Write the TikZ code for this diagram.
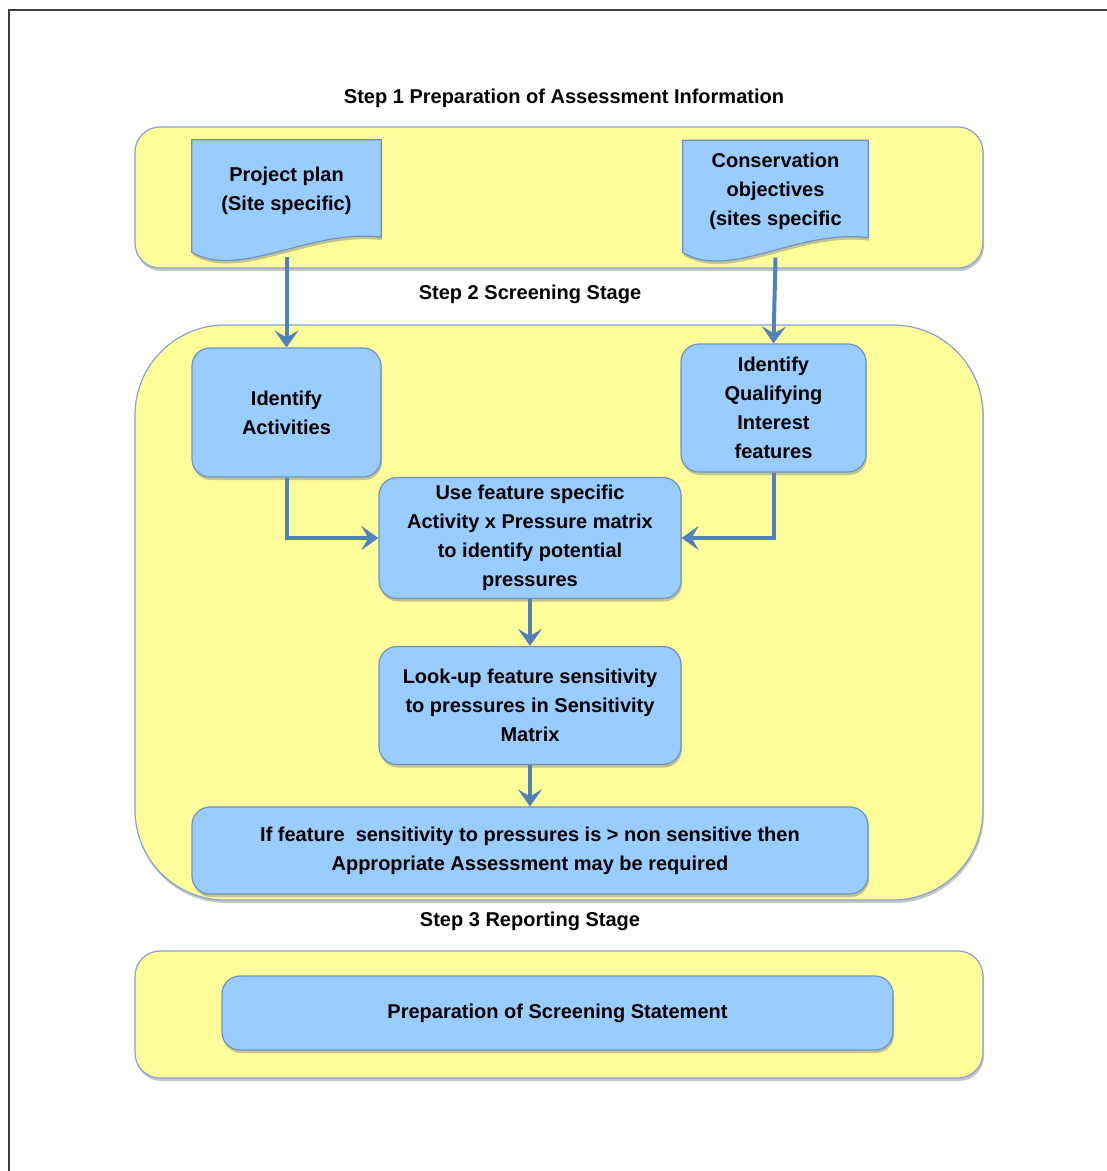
\documentclass[tikz,border=0pt]{standalone}
\usepackage{fontspec}
\setmainfont{Liberation Sans}
\usetikzlibrary{arrows.meta, positioning, calc, shadows, backgrounds}
\definecolor{stagefill}{HTML}{FFFD99}
\definecolor{stageline}{HTML}{86A2D2}
\definecolor{taskfill}{HTML}{99CCFF}
\definecolor{taskline}{HTML}{6F92C6}
\definecolor{flowblue}{HTML}{4F81BD}
\definecolor{framegray}{HTML}{404040}

\begin{document}
\begin{tikzpicture}[x=1pt, y=-1pt,
    stage/.style={rectangle, rounded corners=#1, draw=stageline, line width=1.2pt, fill=stagefill,
                  drop shadow={shadow xshift=1pt, shadow yshift=-3pt, opacity=0.45}},
    task/.style={rectangle, rounded corners=18pt, draw=taskline, line width=1.2pt, fill=taskfill,
                 align=center, font=\bfseries, drop shadow={shadow xshift=1pt, shadow yshift=-3pt, opacity=0.45}},
    doctext/.style={rectangle, align=center, font=\bfseries, minimum height=101pt},
    docshape/.style={draw=taskline, line width=1.2pt, fill=taskfill,
                     drop shadow={shadow xshift=1pt, shadow yshift=-3pt, opacity=0.45}},
    steptitle/.style={font=\bfseries},
    flow/.style={line width=4pt, color=flowblue, -{Stealth[length=17pt, width=24pt, inset=7pt]}}
]
\useasboundingbox (0,0) rectangle (1107,1171);
\fontsize{20}{29}\selectfont

% frame
\draw[framegray, line width=1.3pt] (9,1171) -- (9,10) -- (1107,10);

% stage panels
\begin{scope}[on background layer]
\node[stage=25pt, minimum width=848pt, minimum height=141pt] (stage1) at (559,197.5) {};
\node[stage=90pt, minimum width=848pt, minimum height=575pt] (stage2) at (559,612.5) {};
\node[stage=25pt, minimum width=848pt, minimum height=127pt] (stage3) at (559,1014.5) {};
\end{scope}

\node[steptitle] (title1) at (564,98)  {Step 1 Preparation of Assessment Information};
\node[steptitle] (title2) at (530,294) {Step 2 Screening Stage};
\node[steptitle] (title3) at (530,921) {Step 3 Reporting Stage};

% documents
\node[doctext, minimum width=189pt] (plan) at (286.5,190.5) {Project plan\\(Site specific)};
\node[doctext, minimum width=185pt] (cons) at (775.5,191)   {Conservation\\objectives\\(sites specific};
\begin{scope}[on background layer]
\foreach \d in {plan, cons}
  \draw[docshape] (\d.north west) -- (\d.north east) -- ($(\d.south east)+(0,-4)$)
    .. controls ($(\d.south east)+(-71,-13)$) and ($(\d.south west)+(48,39)$) .. ($(\d.south west)+(0,11)$)
    -- cycle;
\end{scope}
\coordinate (planend) at ($(plan.south)+(0,16)$);
\coordinate (consend) at ($(cons.south)+(0,16)$);

% screening tasks
\node[task, minimum width=189pt, minimum height=129pt] (act)  at (286.5,412.5) {Identify\\Activities};
\node[task, minimum width=185pt, minimum height=128pt] (qual) at (773.5,408)   {Identify\\Qualifying\\Interest\\features};
\node[task, minimum width=302pt, minimum height=121pt] (use)  at (530,538)     {Use feature specific\\Activity x Pressure matrix\\to identify potential\\pressures};
\node[task, minimum width=302pt, minimum height=118pt] (look) at (530,705.5)   {Look-up feature sensitivity\\to pressures in Sensitivity\\Matrix};
\node[task, minimum width=676pt, minimum height=87pt]  (iff)  at (530,850.5)   {If feature\ \ sensitivity to pressures is > non sensitive then\\Appropriate Assessment may be required};

% reporting
\node[task, minimum width=671pt, minimum height=74pt] (stmt) at (557.5,1013) {Preparation of Screening Statement};

\draw[flow] (planend) -- (act.north);
\draw[flow] (consend) -- (qual.north);
\draw[flow] (act.south) |- (use.west);
\draw[flow] (qual.south) |- (use.east);
\draw[flow] (use) -- (look);
\draw[flow] (look) -- (iff);
\end{tikzpicture}
\end{document}
